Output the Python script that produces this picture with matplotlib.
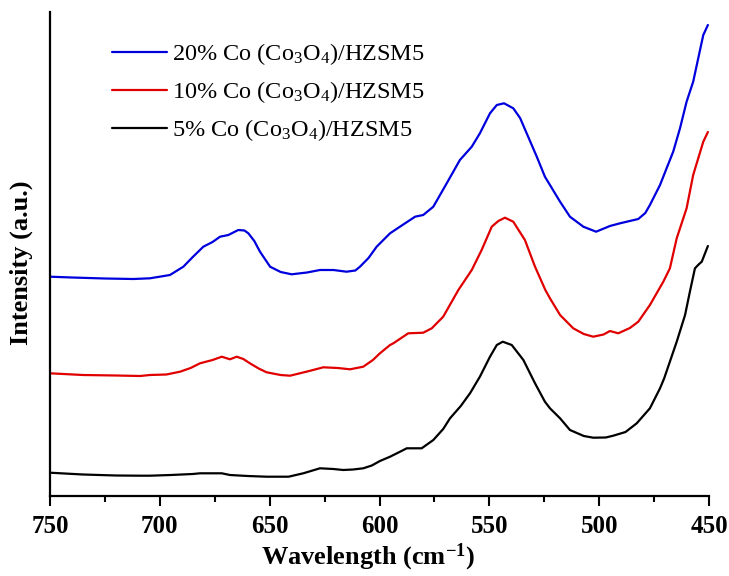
import matplotlib
matplotlib.use("Agg")
import matplotlib.pyplot as plt
from matplotlib.ticker import MultipleLocator

plt.rcParams['font.family'] = ['Liberation Serif', 'DejaVu Serif']
plt.rcParams['mathtext.fontset'] = 'custom'
plt.rcParams['mathtext.rm'] = 'Liberation Serif'
plt.rcParams['mathtext.it'] = 'Liberation Serif:italic'
plt.rcParams['mathtext.bf'] = 'Liberation Serif:bold'

# ---- data (wavenumber, intensity in arbitrary units) ----
wn_20 = [750, 740, 725, 712, 704.5, 695.4, 689.3, 685, 680.2, 676, 672.6, 668.8, 664.3, 661.5,
         659.7, 657, 654.4, 649.8, 645, 640, 633, 627.1, 621, 615, 611, 608.9, 605, 601.3, 595.2,
         590.7, 583.8, 580.1, 575.5, 569.4, 563.4, 558, 554.3, 549.7, 546.6, 543.3, 539.1, 536,
         533, 528.4, 524.7, 522.4, 517.8, 513.3, 507.2, 501.4, 495.1, 490.5, 482.2, 479, 476.9,
         472.3, 469.3, 466.3, 463.2, 460.2, 457.2, 454.9, 452.6, 450.5]
int_20 = [219.3, 218.5, 217.5, 217, 217.7, 221, 229.3, 239, 249.3, 254, 259.3, 261, 266, 265.5,
          262.7, 255, 244.3, 229.3, 224, 221.7, 223.5, 226, 226, 224.3, 225.5, 229.3, 238, 249.3, 262.7,
          269.3, 279.3, 281, 289.3, 312.7, 336, 349.3, 362.7, 382.7, 391, 392.7, 387.7, 378,
          362.7, 339.3, 319.3, 311, 294.3, 279.3, 269.3, 264.3, 270, 272.7, 277, 283, 291,
          311, 327.7, 344.3, 367.7, 394.3, 414.3, 437.7, 461, 471]

wn_10 = [750, 735, 720, 709, 704.5, 697, 690.8, 686, 681.7, 676, 671.8, 668.1, 665, 662, 659, 655,
         651.4, 645, 640.7, 632, 625.6, 619, 613.4, 607.4, 603, 599.8, 595.2, 593.7, 586.9, 580.1,
         576.2, 571, 564.1, 558, 553.5, 548.9, 545.9, 542.9, 539.1, 533.8, 529.2, 524.5, 522.4,
         517.8, 511.8, 507, 502.7, 498, 495.1, 491.3, 486, 482.2, 476.9, 470.8, 467.8, 464.7,
         460.2, 457.2, 454.9, 452.6, 450.5]
int_10 = [122.7, 121, 120.5, 120, 121, 121.5, 124.3, 128, 132.7, 136, 139.3, 136.7, 139.3, 137, 132.7, 127.5,
          123.7, 121, 120.3, 125, 128.7, 128, 126.7, 129.3, 136, 142.7, 151, 152.7, 162.7, 163.3,
          167.7, 179.3, 206, 226, 246, 269.3, 275, 278.3, 274.3, 256, 229.3, 206, 197.7,
          181, 167.7, 162, 159.3, 161.5, 165, 162.7, 168, 174.3, 191, 214.3, 227.7, 257.7,
          287.7, 321, 337.7, 354.3, 364]

wn_5 = [750, 735, 720, 709, 704.5, 695, 685, 681.7, 671.8, 668.1, 660, 651.4, 641.4, 634.7, 627.1,
        621, 616.5, 612, 607.4, 603.5, 599.8, 595.2, 590, 587.6, 580.8, 575.5, 571, 567.9, 563,
        558.8, 554.3, 549.7, 546.6, 543.9, 539.8, 534.5, 529.2, 524.7, 522.4, 517.8, 513.3, 507,
        502.7, 497, 493.6, 488, 482.9, 476.9, 472.3, 470.4, 464.7, 460.9, 458.7, 456.4, 454.5,
        453.3, 450.5]
int_5 = [23.3, 21.5, 20.5, 20.3, 20.3, 21, 22, 22.7, 22.7, 21, 20, 19.3, 19.3, 22.7, 27.7,
         27, 26, 26.5, 27.7, 30.5, 35, 39.3, 45, 47.7, 47.7, 56, 67, 77.7, 90,
         102.7, 119.3, 139.3, 151, 154.3, 151, 136, 112.7, 94.3, 87.7, 77.7, 66, 60,
         58.3, 58.5, 60.3, 64, 72.7, 87.7, 107.7, 117.7, 154.3, 181, 204.3, 227.7, 232,
         234.3, 250]

labels = [r"20% Co (Co$_3$O$_4$)/HZSM5",
          r"10% Co (Co$_3$O$_4$)/HZSM5",
          r"5% Co (Co$_3$O$_4$)/HZSM5"]
colors = ["#0000dd", "#e00000", "#000000"]
x_ticks = [750, 700, 650, 600, 550, 500, 450]

fig = plt.figure(figsize=(7.29, 5.76), dpi=100)
ax = fig.add_axes([50/729, 1 - 496/576, 659/729, 484/576])

kw = dict(lw=1.6, solid_joinstyle='round', solid_capstyle='round')
h5, = ax.plot(wn_5, int_5, color=colors[2], **kw)
h10, = ax.plot(wn_10, int_10, color=colors[1], **kw)
h20, = ax.plot(wn_20, int_20, color=colors[0], **kw)

ax.set_xlim(750, 450)
ax.set_ylim(0, 484)
ax.set_xticks(x_ticks)
ax.set_xticklabels([str(t) for t in x_ticks], fontweight='bold', fontsize=18)
ax.xaxis.set_minor_locator(MultipleLocator(25))
ax.tick_params(axis='x', which='major', direction='out', length=7, width=1.5, pad=6.5)
ax.tick_params(axis='x', which='minor', direction='out', length=4, width=1.5)
ax.set_yticks([])
ax.spines['top'].set_visible(False)
ax.spines['right'].set_visible(False)
ax.spines['left'].set_linewidth(1.6)
ax.spines['bottom'].set_linewidth(1.6)

ax.set_xlabel(r"Wavelength (cm$^{\mathbf{-1}}$)", fontsize=19, fontweight='bold')
ax.xaxis.set_label_coords(0.483, -0.095)
ax.xaxis.label.set_va('top')
ax.set_ylabel("Intensity (a.u.)", fontsize=19, fontweight='bold')
ax.yaxis.set_label_coords(-0.026, 0.481)

ax.legend([h20, h10, h5], labels, loc='upper left', bbox_to_anchor=(0.094, 0.939),
          frameon=False, fontsize=17.5, handlelength=2.25, handletextpad=0.22,
          labelspacing=0.49, borderpad=0, borderaxespad=0)

fig.savefig("out.png", dpi=100)
